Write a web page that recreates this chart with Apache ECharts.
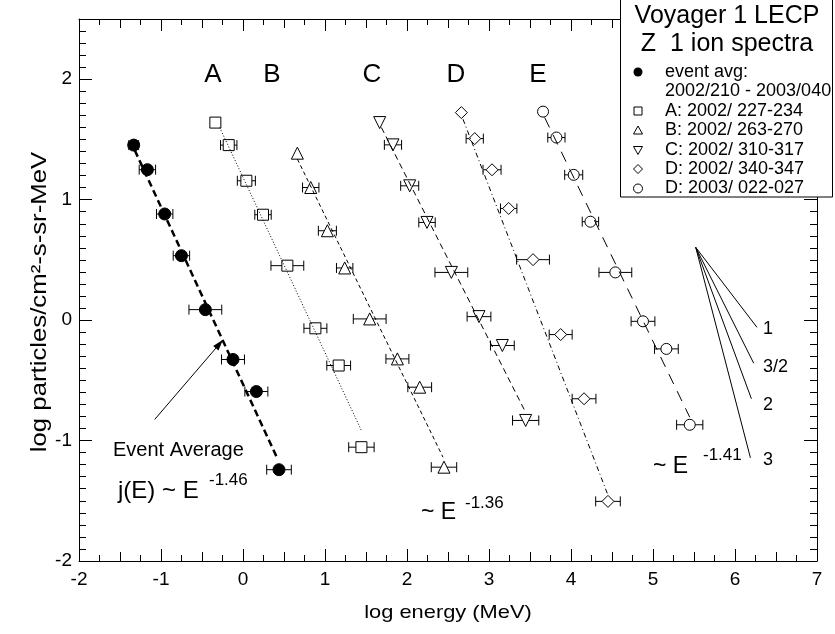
<!DOCTYPE html>
<html><head><meta charset="utf-8">
<script src="https://cdn.jsdelivr.net/npm/echarts@6/dist/echarts.min.js"></script>
<style>html,body{margin:0;padding:0;background:#fff}#c{width:835px;height:634px}</style>
</head><body><div id="c"></div>
<script>
// ---- data (log energy, log flux, horizontal error half-width) ----
const avgX = [-1.333, -1.166, -0.955, -0.751, -0.459, -0.122, 0.163, 0.439];
const avgY = [1.453, 1.249, 0.881, 0.535, 0.087, -0.327, -0.593, -1.242];
const avgE = [0.06, 0.1, 0.1, 0.1, 0.2, 0.14, 0.14, 0.15];

const aX = [-0.337, -0.174, 0.041, 0.244, 0.541, 0.883, 1.167, 1.444];
const aY = [1.640, 1.453, 1.157, 0.875, 0.452, -0.068, -0.377, -1.055];
const aE = [0, 0.1, 0.11, 0.1, 0.2, 0.14, 0.145, 0.155];

const bX = [0.663, 0.826, 1.029, 1.240, 1.545, 1.883, 2.155, 2.451];
const bY = [1.386, 1.101, 0.742, 0.433, 0.010, -0.322, -0.557, -1.221];
const bE = [0, 0.1, 0.11, 0.1, 0.2, 0.14, 0.145, 0.155];

const cX = [1.667, 1.829, 2.033, 2.244, 2.541, 2.878, 3.163, 3.447];
const cY = [1.640, 1.455, 1.115, 0.811, 0.396, 0.029, -0.211, -0.833];
const cE = [0, 0.105, 0.11, 0.1, 0.2, 0.145, 0.145, 0.16];

const dX = [2.663, 2.826, 3.037, 3.240, 3.537, 3.874, 4.159, 4.451];
const dY = [1.723, 1.507, 1.248, 0.927, 0.502, -0.120, -0.653, -1.505];
const dE = [0, 0.105, 0.11, 0.1, 0.2, 0.14, 0.145, 0.15];

const eX = [3.659, 3.822, 4.033, 4.237, 4.541, 4.878, 5.163, 5.448];
const eY = [1.731, 1.516, 1.206, 0.817, 0.396, -0.010, -0.239, -0.869];
const eE = [0, 0.105, 0.11, 0.1, 0.2, 0.145, 0.145, 0.16];

// power-law fit lines: [x, y] start and end
const avgFit = [[-1.32, 1.41], [0.42, -1.15]];
const aFit = [[-0.284, 1.599], [1.444, -0.916]];
const bFit = [[0.663, 1.337], [2.439, -1.138]];
const cFit = [[1.688, 1.599], [3.435, -0.750]];
const dFit = [[2.683, 1.668], [4.444, -1.441]];
const eFit = [[3.679, 1.682], [5.448, -0.806]];

// reference slope fan (apex + ends)
const fanApex = [5.521, 0.604];
const fanEnds = [[6.268, -0.060], [6.228, -0.358], [6.200, -0.653], [6.188, -1.143]];
const fanLabels = ['1', '3/2', '2', '3'];

// arrow for "Event Average"
const arrowFrom = [-1.077, -0.825];
const arrowTo = [-0.244, -0.164];

const xTickLabels = ['-2','-1','0','1','2','3','4','5','6','7'];
const yTickLabels = ['-2','-1','0','1','2'];

const legendTitle = ['Voyager 1 LECP', 'Z  1 ion spectra'];
const legendRows = ['event avg:', '2002/210 - 2003/040', 'A: 2002/ 227-234', 'B: 2002/ 263-270',
  'C: 2002/ 310-317', 'D: 2002/ 340-347', 'D: 2003/ 022-027'];
const groupLetters = ['A', 'B', 'C', 'D', 'E'];

// ---- chart ----
const FONT = 'Liberation Sans';
const chart = echarts.init(document.getElementById('c'), null, {renderer: 'canvas'});

function errSeries(xs, ys, es) {
  return {
    type: 'custom', silent: true, z: 3,
    xAxisIndex: 0, yAxisIndex: 0,
    data: xs.map((x, i) => [x, ys[i], es[i]]),
    encode: {x: 0, y: 1},
    renderItem: (params, api) => {
      const x = api.value(0), y = api.value(1), e = api.value(2);
      if (!e) return {type: 'group', children: []};
      const p1 = api.coord([x - e, y]), p2 = api.coord([x + e, y]);
      const h = 5, st = {stroke: '#000', lineWidth: 1};
      return {type: 'group', children: [
        {type: 'line', shape: {x1: p1[0], y1: p1[1], x2: p2[0], y2: p2[1]}, style: st},
        {type: 'line', shape: {x1: p1[0], y1: p1[1] - h, x2: p1[0], y2: p1[1] + h}, style: st},
        {type: 'line', shape: {x1: p2[0], y1: p2[1] - h, x2: p2[0], y2: p2[1] + h}, style: st}
      ]};
    }
  };
}
function scat(xs, ys, symbol, size, fill, rot) {
  return {
    type: 'scatter', z: 4, silent: true, symbol: symbol, symbolSize: size,
    symbolRotate: rot || 0,
    data: xs.map((x, i) => [x, ys[i]]),
    itemStyle: {color: fill, borderColor: '#000', borderWidth: 1, opacity: 1}
  };
}
function fit(pts, type, width) {
  return {
    type: 'line', z: 5, silent: true, symbol: 'none', data: pts,
    lineStyle: {color: '#000', width: width, type: type}
  };
}

const series = [
  errSeries(avgX, avgY, avgE), errSeries(aX, aY, aE), errSeries(bX, bY, bE),
  errSeries(cX, cY, cE), errSeries(dX, dY, dE), errSeries(eX, eY, eE),
  scat(avgX, avgY, 'circle', 12, '#000'),
  scat(aX, aY, 'rect', 11, '#fff'),
  scat(bX, bY, 'triangle', 12, '#fff'),
  scat(cX, cY, 'triangle', 12, '#fff', 180),
  scat(dX, dY, 'diamond', 12, '#fff'),
  scat(eX, eY, 'circle', 11, '#fff'),
  fit(avgFit, [7, 4], 2.5),
  fit(aFit, [1, 2], 1),
  fit(bFit, [4, 3], 1),
  fit(cFit, [6, 4], 1),
  fit(dFit, [5, 3, 1, 3], 1),
  fit(eFit, [11, 8], 1),
  fit([arrowFrom, arrowTo], 'solid', 1)
];
fanEnds.forEach(end => series.push(fit([fanApex, end], 'solid', 1)));

function xAx(pos, interval, len, main) {
  return {
    type: 'value', position: pos, min: -2, max: 7, interval: interval, offset: 0,
    axisLine: {show: main, onZero: false, lineStyle: {color: '#000', width: 1}},
    axisTick: {show: true, inside: true, length: len, lineStyle: {color: '#000', width: 1}},
    axisLabel: {show: main && pos === 'bottom', color: '#000', fontSize: 19, fontFamily: FONT, margin: 9,
      formatter: v => { const s = String(Math.round(v)); return xTickLabels.includes(s) ? s : ''; }},
    splitLine: {show: false}
  };
}
function yAx(pos, interval, len, main) {
  return {
    type: 'value', position: pos, min: -2, max: 2.5, interval: interval, offset: 0,
    axisLine: {show: main, onZero: false, lineStyle: {color: '#000', width: 1}},
    axisTick: {show: true, inside: true, length: len, lineStyle: {color: '#000', width: 1}},
    axisLabel: {show: main && pos === 'left', color: '#000', fontSize: 19, fontFamily: FONT, margin: 7,
      formatter: v => { const s = String(Math.round(v)); return (Math.abs(v - Math.round(v)) < 1e-6 && yTickLabels.includes(s)) ? s : ''; }},
    splitLine: {show: false}
  };
}

const graphic = [];
function txt(t, x, y, size, align, extra) {
  graphic.push(Object.assign({type: 'text', x: x, y: y, z: 100,
    style: {text: t, fontSize: size, fontFamily: FONT, fill: '#000', align: align || 'left', verticalAlign: 'middle'}}, extra || {}));
}
// axis titles
txt('log energy (MeV)', 448, 613, 19, 'center', {scaleX: 1.15});
txt('log particles/cm²-s-sr-MeV', 40, 302, 22, 'center', {rotation: Math.PI / 2, scaleX: 1.17});

// group letters above the spectra
const letterPos = [[213, 75], [272, 75], [372, 75], [456, 75], [538, 75]];
groupLetters.forEach((t, i) => txt(t, letterPos[i][0], letterPos[i][1], 26, 'center'));

txt('Event Average', 113, 450, 20);
txt('j(E) ~ E', 118, 491, 24);
txt('-1.46', 209, 480, 17);
txt('~ E', 421, 513, 23);
txt('-1.36', 465, 503, 17);
txt('~ E', 653, 467, 23);
txt('-1.41', 703, 455, 17);
const fanLabelPos = [[763, 329], [763, 367], [763, 405], [763, 460]];
fanLabels.forEach((t, i) => txt(t, fanLabelPos[i][0], fanLabelPos[i][1], 18));

// legend box
graphic.push({type: 'rect', z: 90, shape: {x: 620.5, y: -1, width: 212, height: 198},
  style: {fill: '#fff', stroke: '#000', lineWidth: 1}});
txt(legendTitle[0], 727, 16, 25, 'center');
txt(legendTitle[1], 727, 44, 25, 'center');
const rowY = [72, 91, 111, 130.5, 150, 169, 188.5];
legendRows.forEach((t, i) => txt(t, 665, rowY[i], 18));
const sx = 638;
graphic.push({type: 'circle', z: 100, shape: {cx: sx, cy: rowY[0], r: 4.5}, style: {fill: '#000'}});
graphic.push({type: 'rect', z: 100, shape: {x: sx - 4, y: rowY[2] - 4, width: 8, height: 8}, style: {fill: '#fff', stroke: '#000', lineWidth: 1}});
graphic.push({type: 'polygon', z: 100, shape: {points: [[sx, rowY[3] - 4.5], [sx + 4.5, rowY[3] + 3.5], [sx - 4.5, rowY[3] + 3.5]]}, style: {fill: '#fff', stroke: '#000', lineWidth: 1}});
graphic.push({type: 'polygon', z: 100, shape: {points: [[sx, rowY[4] + 4.5], [sx + 4.5, rowY[4] - 3.5], [sx - 4.5, rowY[4] - 3.5]]}, style: {fill: '#fff', stroke: '#000', lineWidth: 1}});
graphic.push({type: 'polygon', z: 100, shape: {points: [[sx, rowY[5] - 4.5], [sx + 4.5, rowY[5]], [sx, rowY[5] + 4.5], [sx - 4.5, rowY[5]]]}, style: {fill: '#fff', stroke: '#000', lineWidth: 1}});
graphic.push({type: 'circle', z: 100, shape: {cx: sx, cy: rowY[6], r: 4.5}, style: {fill: '#fff', stroke: '#000', lineWidth: 1}});

chart.setOption({
  animation: false,
  backgroundColor: '#fff',
  grid: {left: 79, right: 18, top: 19, bottom: 73, containLabel: false},
  xAxis: [
    xAx('bottom', 1, 12, true), xAx('bottom', 0.5, 9, false), xAx('bottom', 0.25, 6, false),
    xAx('top', 1, 12, true), xAx('top', 0.5, 9, false), xAx('top', 0.25, 6, false)
  ],
  yAxis: [
    yAx('left', 1, 13, true), yAx('left', 0.1, 7, false),
    yAx('right', 1, 13, true), yAx('right', 0.1, 7, false)
  ],
  series: series,
  graphic: graphic
});

// arrowhead at the tip of the "Event Average" pointer, placed from the axis scales
const pA = chart.convertToPixel({gridIndex: 0}, arrowFrom);
const pB = chart.convertToPixel({gridIndex: 0}, arrowTo);
const ang = Math.atan2(pB[1] - pA[1], pB[0] - pA[0]);
const hl = 11, hw = 3.5;
const bx = pB[0] - hl * Math.cos(ang), by = pB[1] - hl * Math.sin(ang);
graphic.push({type: 'polygon', z: 100, shape: {points: [
  [pB[0], pB[1]],
  [bx + hw * Math.sin(ang), by - hw * Math.cos(ang)],
  [bx - hw * Math.sin(ang), by + hw * Math.cos(ang)]
]}, style: {fill: '#000'}});
chart.setOption({graphic: graphic});
</script></body></html>
